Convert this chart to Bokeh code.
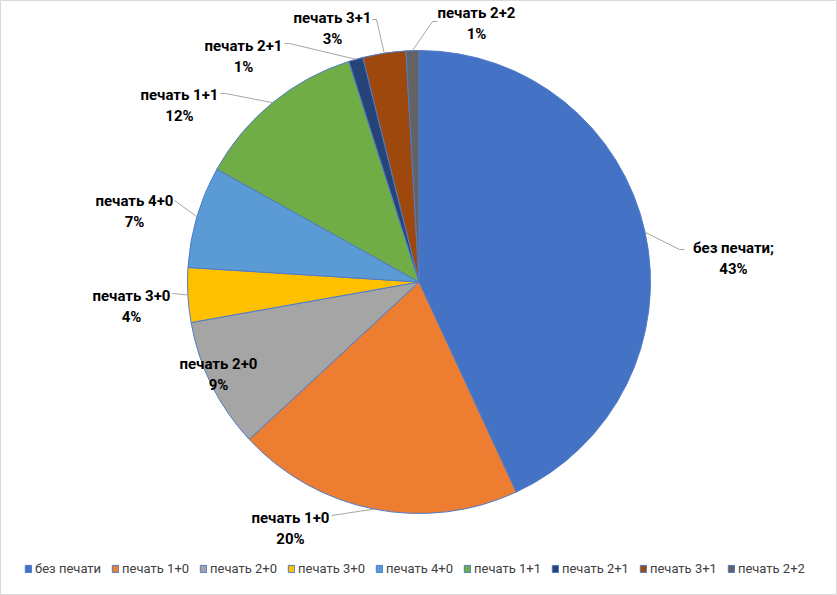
import math
from bokeh.plotting import figure
from bokeh.models import ColumnDataSource, Range1d, Legend, LegendItem
from bokeh.core.properties import value
from bokeh.embed import file_html
from bokeh.resources import INLINE

# ---- data ----
categories = ["без печати", "печать 1+0", "печать 2+0", "печать 3+0", "печать 4+0",
              "печать 1+1", "печать 2+1", "печать 3+1", "печать 2+2"]
shares = [43.1, 20.0, 9.1, 3.8, 7.1, 12.0, 1.0, 3.0, 0.9]
label_names = ["без печати;", "печать 1+0", "печать 2+0", "печать 3+0", "печать 4+0",
               "печать 1+1", "печать 2+1", "печать 3+1", "печать 2+2"]
pct_labels = ["43%", "20%", "9%", "4%", "7%", "12%", "1%", "3%", "1%"]
colors = ["#4472C4", "#ED7D31", "#A5A5A5", "#FFC000", "#5B9BD5",
          "#70AD47", "#264478", "#9E480E", "#636363"]

# ---- layout (pixel coords, y measured from top) ----
W, H = 837, 595
CX, CY, R = 418.5, 281.5, 231.5
label_pos = [(733, 247), (290, 517), (218, 363), (131, 295), (134, 200),
             (179, 94), (243, 45), (332, 17), (476, 12)]
leader_start = [[(684, 249), (679, 249)], [(331, 515)], None, [(172, 293)],
                [(174, 200)], [(220, 93), (225, 93)], [(284, 43), (289, 43)],
                [(372, 19), (376, 19)], [(437, 21), (432, 21)]]

def fy(y):
    return H - y

total = sum(shares)
starts, ends, mids = [], [], []
acc = 0.0
for s in shares:
    a0 = acc / total
    acc += s
    a1 = acc / total
    starts.append(math.pi / 2 - a0 * 2 * math.pi)
    ends.append(math.pi / 2 - a1 * 2 * math.pi)
    mids.append(math.pi / 2 - (a0 + a1) / 2 * 2 * math.pi)

p = figure(width=W, height=H, output_backend="svg", toolbar_location=None,
           x_range=Range1d(0, W), y_range=Range1d(0, H), min_border=0)
p.axis.visible = False
p.grid.visible = False
p.outline_line_color = "#D9D9D9"
p.outline_line_width = 1
p.background_fill_color = "white"
p.border_fill_color = "white"

src = ColumnDataSource(dict(x=[CX] * len(shares), y=[fy(CY)] * len(shares),
                            start=starts, end=ends, color=colors, name=categories))
wr = p.wedge(x="x", y="y", radius=R, start_angle="start", end_angle="end",
             direction="clock", fill_color="color", line_color="#4F7BC8",
             line_width=1, source=src)

# leader lines
xs, ys = [], []
for i, st in enumerate(leader_start):
    if st is None:
        continue
    ex = CX + R * math.cos(mids[i])
    ey = fy(CY) + R * math.sin(mids[i])
    xs.append([pt[0] for pt in st] + [ex])
    ys.append([fy(pt[1]) for pt in st] + [ey])
p.multi_line(xs=xs, ys=ys, line_color="#A6A6A6", line_width=1)

# labels
lx = [q[0] for q in label_pos]
ly1 = [fy(q[1]) for q in label_pos]
ly2 = [fy(q[1] + 21) for q in label_pos]
p.text(x=lx, y=ly1, text=label_names, text_align="center", text_baseline="middle",
       text_font=value("Roboto"), text_font_style="bold", text_font_size="15px",
       text_color="#000000")
p.text(x=lx, y=ly2, text=pct_labels, text_align="center", text_baseline="middle",
       text_font=value("Roboto"), text_font_style="bold", text_font_size="15px",
       text_color="#000000")

items = [LegendItem(label=categories[i], renderers=[wr], index=i) for i in range(len(categories))]
legend = Legend(items=items, orientation="horizontal", location=(24, 19),
                glyph_width=8, glyph_height=9, label_standoff=3, spacing=10,
                label_text_font="Roboto", label_text_font_size="13px",
                label_text_color="#404040", label_height=12,
                padding=0, margin=0, border_line_color=None,
                background_fill_alpha=0)
p.add_layout(legend)

open("out.html", "w").write(file_html(p, INLINE))
